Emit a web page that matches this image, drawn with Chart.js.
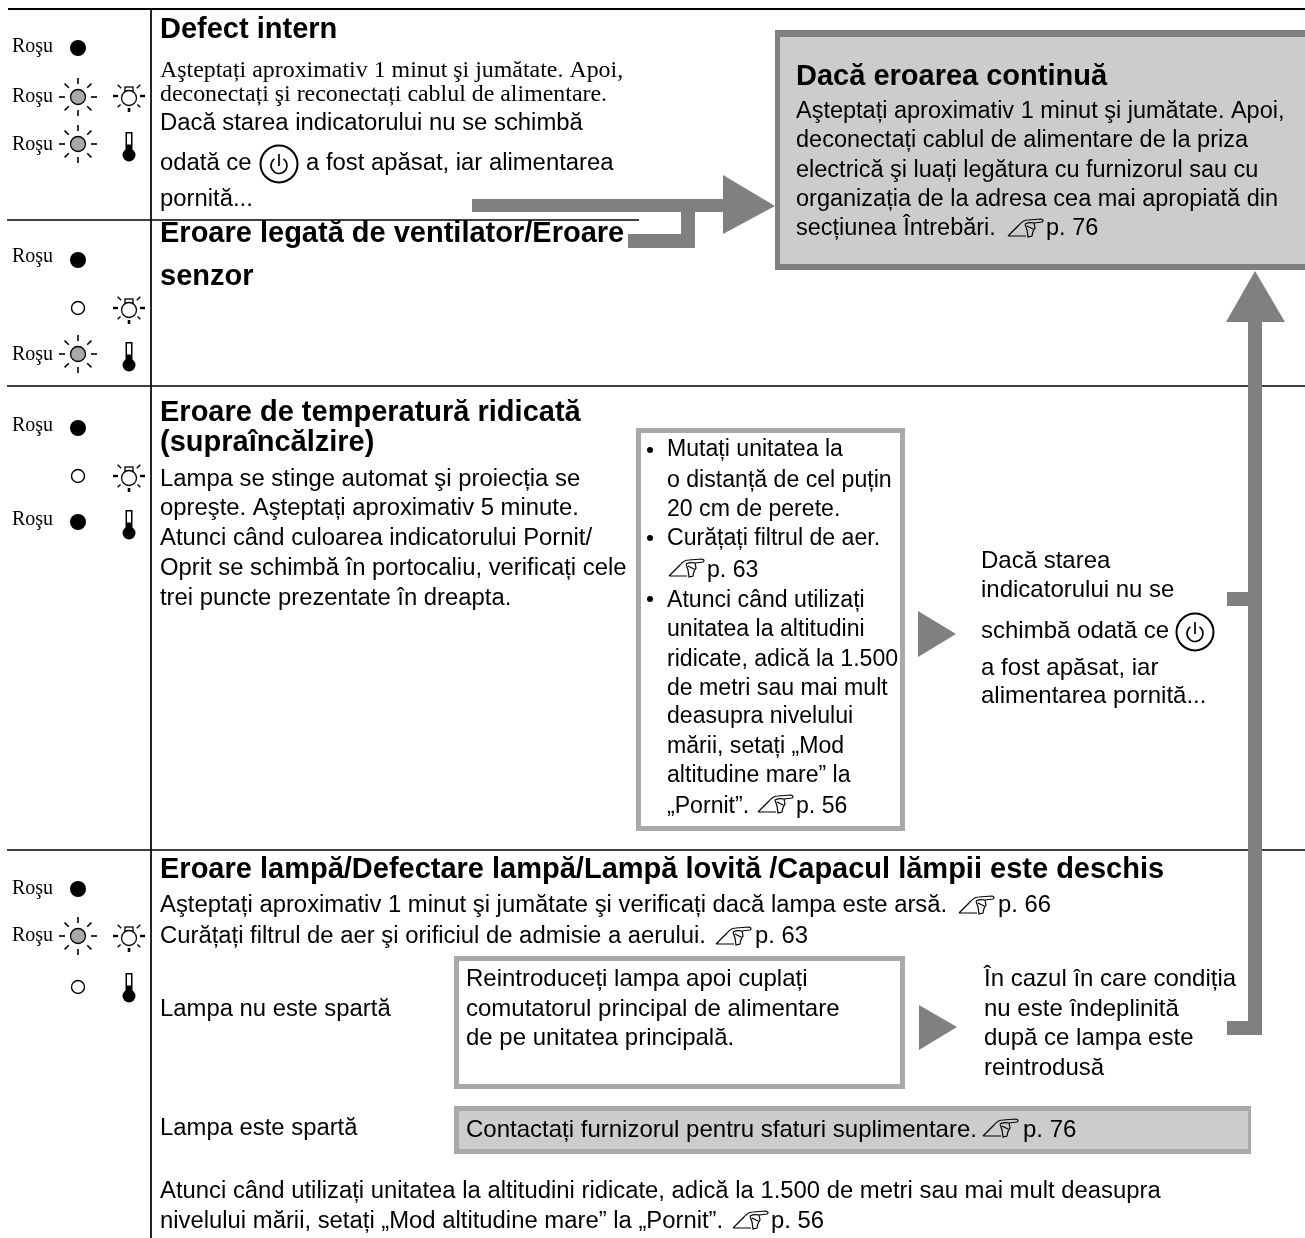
<!DOCTYPE html>
<html>
<head>
<meta charset="utf-8">
<style>
  html, body { margin: 0; padding: 0; background: #fff; }
  canvas { display: block; }
</style>
<script src="https://cdn.jsdelivr.net/npm/chart.js@4/dist/chart.umd.min.js"></script>
</head>
<body>
<canvas id="chart" width="1305" height="1238"></canvas>
<script>
// Table rules, each one [x1, y1, x2, y2]
const ruleTop = [8, 9, 1305, 9];
const ruleFirst = [7, 220, 639, 220];
const ruleSecond = [7, 386, 1305, 386];
const ruleThird = [7, 850, 1305, 850];
const ruleColumn = [151, 9, 151, 1238];

// Boxes, each one [left, top, right, bottom]
const errorPanel = [775, 30, 1305, 270];
const errorPanelInner = [780, 37, 1305, 264];
const checksBox = [636, 428, 905, 831];
const checksBoxInner = [641, 433, 900, 826];
const lampBox = [454, 956, 905, 1089];
const lampBoxInner = [459, 961, 900, 1084];
const contactBox = [454, 1106, 1251, 1154];
const contactBoxInner = [459, 1111, 1248, 1149];

// Grey connector bars
const barTop = [472, 199, 724, 212];
const barStub = [628, 234, 695, 248];
const barDrop = [681, 212, 695, 248];
const barRiser = [1248, 320, 1262, 1035];
const barBranchHigh = [1227, 592, 1248, 606];
const barBranchLow = [1227, 1021, 1248, 1035];

// Arrow heads
const headRightX = [723, 775, 723];
const headRightY = [175, 206, 234];
const headUpX = [1226, 1255, 1285];
const headUpY = [322, 271, 322];
const headMidX = [918, 956, 918];
const headMidY = [611, 634, 657];
const headLowX = [919, 957, 919];
const headLowY = [1005, 1027, 1050];

// Status lights
const solidX = [78, 78, 78, 78, 78];
const solidY = [48, 260, 428, 522, 889];
const openX = [78, 78, 78];
const openY = [308, 476, 987];
const blinkX = [78, 78, 78, 78];
const blinkY = [97, 144, 354, 936];
const lampX = [129, 129, 129, 129];
const lampY = [96, 308, 476, 936];
const thermX = [129, 129, 129, 129];
const thermY = [146, 356, 524, 987];
const bulletX = [650, 650, 650];
const bulletY = [450, 538, 599];
const powerX = [279, 1195];
const powerY = [164, 632];

// Hand pointers next to page references
const pointerX = [1026, 687, 776, 977, 734, 1001, 751];
const pointerY = [228, 568, 804, 905, 936, 1128, 1220];

// Text
const redLabel = 'Roşu';
const redLabelX = [12, 12, 12, 12, 12, 12, 12, 12, 12];
const redLabelY = [52, 102, 150, 262, 360, 431, 525, 894, 941];

const titles = [
  'Defect intern',
  'Eroare legată de ventilator/Eroare',
  'senzor',
  'Eroare de temperatură ridicată',
  '(supraîncălzire)',
  'Eroare lampă/Defectare lampă/Lampă lovită /Capacul lămpii este deschis',
  'Dacă eroarea continuă'
];
const titleX = [160, 160, 160, 160, 160, 160, 796];
const titleY = [38, 242, 285, 421, 451, 878, 85];

const serifLines = [
  'Aşteptați aproximativ 1 minut şi jumătate. Apoi,',
  'deconectați şi reconectați cablul de alimentare.'
];
const serifX = [160, 160];
const serifY = [77, 101];

const bodyLines = [
  'Dacă starea indicatorului nu se schimbă',
  'odată ce',
  'a fost apăsat, iar alimentarea',
  'pornită...',
  'Lampa se stinge automat şi proiecția se',
  'opreşte. Aşteptați aproximativ 5 minute.',
  'Atunci când culoarea indicatorului Pornit/',
  'Oprit se schimbă în portocaliu, verificați cele',
  'trei puncte prezentate în dreapta.',
  'Aşteptați aproximativ 1 minut şi jumătate şi verificați dacă lampa este arsă.',
  'Curățați filtrul de aer şi orificiul de admisie a aerului.',
  'Lampa nu este spartă',
  'Lampa este spartă',
  'Atunci când utilizați unitatea la altitudini ridicate, adică la 1.500 de metri sau mai mult deasupra',
  'nivelului mării, setați „Mod altitudine mare” la „Pornit”.',
  'p. 56',
  'p. 66',
  'p. 63'
];
const bodyX = [160, 160, 306, 160, 160, 160, 160, 160, 160, 160, 160, 160, 160, 160, 160, 771, 998, 755];
const bodyY = [130, 170, 170, 206, 486, 515, 545, 575, 605, 912, 943, 1016, 1135, 1198, 1228, 1228, 912, 943];

const panelLines = [
  'Aşteptați aproximativ 1 minut şi jumătate. Apoi,',
  'deconectați cablul de alimentare de la priza',
  'electrică şi luați legătura cu furnizorul sau cu',
  'organizația de la adresa cea mai apropiată din',
  'secțiunea Întrebări.',
  'p. 76'
];
const panelX = [796, 796, 796, 796, 796, 1046];
const panelY = [118, 147, 177, 206, 235, 235];

const checkLines = [
  'Mutați unitatea la',
  'o distanță de cel puțin',
  '20 cm de perete.',
  'Curățați filtrul de aer.',
  'p. 63',
  'Atunci când utilizați',
  'unitatea la altitudini',
  'ridicate, adică la 1.500',
  'de metri sau mai mult',
  'deasupra nivelului',
  'mării, setați „Mod',
  'altitudine mare” la',
  '„Pornit”.',
  'p. 56'
];
const checkX = [667, 667, 667, 667, 707, 667, 667, 667, 667, 667, 667, 667, 667, 796];
const checkY = [456, 487, 516, 545, 577, 607, 636, 666, 695, 723, 753, 782, 813, 813];

const sideLines = [
  'Dacă starea',
  'indicatorului nu se',
  'schimbă odată ce',
  'a fost apăsat, iar',
  'alimentarea pornită...',
  'Reintroduceți lampa apoi cuplați',
  'comutatorul principal de alimentare',
  'de pe unitatea principală.',
  'În cazul în care condiția',
  'nu este îndeplinită',
  'după ce lampa este',
  'reintrodusă',
  'Contactați furnizorul pentru sfaturi suplimentare.',
  'p. 76'
];
const sideX = [981, 981, 981, 981, 981, 466, 466, 466, 984, 984, 984, 984, 466, 1023];
const sideY = [568, 597, 638, 675, 703, 986, 1016, 1045, 986, 1016, 1045, 1075, 1137, 1137];

const INK = '#000000';
const GREY = '#808080';
const BORDER = '#a9a9a9';
const PANEL = '#cccccc';

function rectPoints(r) {
  return [
    {x: r[0], y: r[1]}, {x: r[2], y: r[1]}, {x: r[2], y: r[3]}, {x: r[0], y: r[3]}, {x: r[0], y: r[1]}
  ];
}

function zip(xs, ys) {
  return xs.map((x, i) => ({x: x, y: ys[i]}));
}

function shape(points, color) {
  return {
    data: points, showLine: true, fill: 'shape', backgroundColor: color,
    borderWidth: 0, pointRadius: 0, tension: 0
  };
}

function rule(r, width) {
  return {
    data: [{x: r[0], y: r[1]}, {x: r[2], y: r[3]}], showLine: true, fill: false,
    borderColor: INK, borderWidth: width, pointRadius: 0, borderCapStyle: 'butt'
  };
}

function marks(points, style, radius, fillColor, lineColor, lineWidth) {
  return {
    data: points, showLine: false, pointStyle: style, pointRadius: radius,
    backgroundColor: fillColor, borderColor: lineColor, borderWidth: lineWidth, pointBorderWidth: lineWidth
  };
}

// Small canvases used as point styles
function iconCanvas(w, h, paint) {
  const c = document.createElement('canvas');
  c.width = w;
  c.height = h;
  const ctx = c.getContext('2d');
  ctx.translate(w / 2, h / 2);
  ctx.strokeStyle = INK;
  ctx.fillStyle = INK;
  paint(ctx);
  return c;
}

function ray(ctx, angle, from, to, width) {
  const dx = Math.cos(angle);
  const dy = Math.sin(angle);
  ctx.lineWidth = width;
  ctx.beginPath();
  ctx.moveTo(dx * from, dy * from);
  ctx.lineTo(dx * to, dy * to);
  ctx.stroke();
}

const blinkIcon = iconCanvas(44, 44, ctx => {
  ctx.lineWidth = 1.3;
  ctx.fillStyle = '#a9a9a9';
  ctx.beginPath();
  ctx.arc(0, 0, 7.5, 0, Math.PI * 2);
  ctx.fill();
  ctx.stroke();
  for (let i = 0; i < 8; i++) {
    ray(ctx, i * Math.PI / 4, 13, 19, 1.6);
  }
});

const lampIcon = iconCanvas(44, 44, ctx => {
  ctx.lineWidth = 1.3;
  ctx.strokeRect(-4, -9, 8, 5);
  ctx.fillStyle = '#ffffff';
  ctx.beginPath();
  ctx.arc(0, 2, 7.5, 0, Math.PI * 2);
  ctx.fill();
  ctx.stroke();
  ray(ctx, 0, 11, 16, 2.4);
  ray(ctx, Math.PI, 11, 16, 2.4);
  ray(ctx, Math.PI / 2, 12, 16, 2.6);
  ray(ctx, Math.PI / 4, 12, 16, 1.4);
  ray(ctx, Math.PI * 3 / 4, 12, 16, 1.4);
  ray(ctx, -Math.PI / 4, 11, 16, 1.4);
  ray(ctx, -Math.PI * 3 / 4, 11, 16, 1.4);
});

const thermIcon = iconCanvas(24, 44, ctx => {
  ctx.fillRect(-3.5, -14, 7, 20);
  ctx.fillStyle = '#ffffff';
  ctx.fillRect(-2, -12.5, 4, 11);
  ctx.fillStyle = INK;
  ctx.beginPath();
  ctx.arc(0, 9, 6.5, 0, Math.PI * 2);
  ctx.fill();
});

const powerIcon = iconCanvas(44, 44, ctx => {
  ctx.lineWidth = 2;
  ctx.beginPath();
  ctx.arc(0, 0, 18.5, 0, Math.PI * 2);
  ctx.stroke();
  ctx.lineWidth = 1.7;
  ctx.beginPath();
  ctx.arc(0, 1.5, 8, -Math.PI / 2 + 0.6, -Math.PI / 2 - 0.6 + Math.PI * 2);
  ctx.stroke();
  ctx.beginPath();
  ctx.moveTo(0, -10);
  ctx.lineTo(0, 2);
  ctx.stroke();
});

const handIcon = iconCanvas(40, 22, ctx => {
  ctx.lineWidth = 1.2;
  ctx.beginPath();
  // slanted sleeve
  ctx.moveTo(-18, 8);
  ctx.lineTo(-7, -3);
  ctx.quadraticCurveTo(-3, -8, 2, -8);
  ctx.lineTo(15, -9);
  ctx.quadraticCurveTo(18.5, -8, 16, -6);
  ctx.lineTo(8, -5);
  ctx.moveTo(-18, 8);
  ctx.lineTo(0, 8);
  // hand and fingers
  ctx.moveTo(-1, -4);
  ctx.quadraticCurveTo(3, -6, 8, -5);
  ctx.lineTo(9, 0);
  ctx.quadraticCurveTo(7, 2, 6, 8);
  ctx.lineTo(2, 9);
  ctx.lineTo(1, 2);
  ctx.lineTo(-1, -4);
  ctx.moveTo(1, -2);
  ctx.lineTo(7, 1);
  ctx.stroke();
});

const datasets = [
  shape(rectPoints(errorPanel), GREY),
  shape(rectPoints(errorPanelInner), PANEL),
  shape(rectPoints(checksBox), BORDER),
  shape(rectPoints(checksBoxInner), '#ffffff'),
  shape(rectPoints(lampBox), BORDER),
  shape(rectPoints(lampBoxInner), '#ffffff'),
  shape(rectPoints(contactBox), BORDER),
  shape(rectPoints(contactBoxInner), PANEL),
  rule(ruleTop, 2.2),
  rule(ruleFirst, 1.7),
  rule(ruleSecond, 1.7),
  rule(ruleThird, 1.7),
  rule(ruleColumn, 1.7),
  shape(rectPoints(barTop), GREY),
  shape(rectPoints(barStub), GREY),
  shape(rectPoints(barDrop), GREY),
  shape(rectPoints(barRiser), GREY),
  shape(rectPoints(barBranchHigh), GREY),
  shape(rectPoints(barBranchLow), GREY),
  shape(zip(headRightX, headRightY), GREY),
  shape(zip(headUpX, headUpY), GREY),
  shape(zip(headMidX, headMidY), GREY),
  shape(zip(headLowX, headLowY), GREY),
  marks(zip(solidX, solidY), 'circle', 8, INK, INK, 0),
  marks(zip(openX, openY), 'circle', 6.5, '#ffffff', INK, 1.4),
  marks(zip(bulletX, bulletY), 'circle', 3, INK, INK, 0),
  marks(zip(blinkX, blinkY), blinkIcon, 22),
  marks(zip(lampX, lampY), lampIcon, 22),
  marks(zip(thermX, thermY), thermIcon, 22),
  marks(zip(powerX, powerY), powerIcon, 22),
  marks(zip(pointerX, pointerY), handIcon, 20)
];
// later entries paint on top
datasets.forEach((d, i) => { d.order = datasets.length - i; });

function drawLines(chart, lines, xs, ys, font) {
  const {ctx, scales} = chart;
  ctx.font = font;
  lines.forEach((line, i) => {
    ctx.fillText(line, scales.x.getPixelForValue(xs[i]), scales.y.getPixelForValue(ys[i]));
  });
}

const textPlugin = {
  id: 'pageText',
  afterDatasetsDraw(chart) {
    const ctx = chart.ctx;
    const SANS = '"Liberation Sans", Arial, sans-serif';
    const SERIF = '"Liberation Serif", "Times New Roman", serif';
    ctx.save();
    ctx.fillStyle = INK;
    ctx.textBaseline = 'alphabetic';
    ctx.textAlign = 'left';
    drawLines(chart, redLabelX.map(() => redLabel), redLabelX, redLabelY, '20px ' + SERIF);
    drawLines(chart, titles, titleX, titleY, 'bold 29px ' + SANS);
    drawLines(chart, serifLines, serifX, serifY, '23.9px ' + SERIF);
    drawLines(chart, bodyLines, bodyX, bodyY, '23.85px ' + SANS);
    drawLines(chart, panelLines, panelX, panelY, '23.5px ' + SANS);
    drawLines(chart, checkLines, checkX, checkY, '23.1px ' + SANS);
    drawLines(chart, sideLines, sideX, sideY, '24px ' + SANS);
    ctx.restore();
  }
};

new Chart(document.getElementById('chart'), {
  type: 'scatter',
  data: {datasets: datasets},
  options: {
    responsive: false,
    animation: false,
    layout: {padding: 0, autoPadding: false},
    scales: {
      x: {type: 'linear', display: false, min: 0, max: 1305},
      y: {type: 'linear', display: false, min: 0, max: 1238, reverse: true}
    },
    plugins: {legend: {display: false}, tooltip: {enabled: false}}
  },
  plugins: [textPlugin]
});
</script>
</body>
</html>
